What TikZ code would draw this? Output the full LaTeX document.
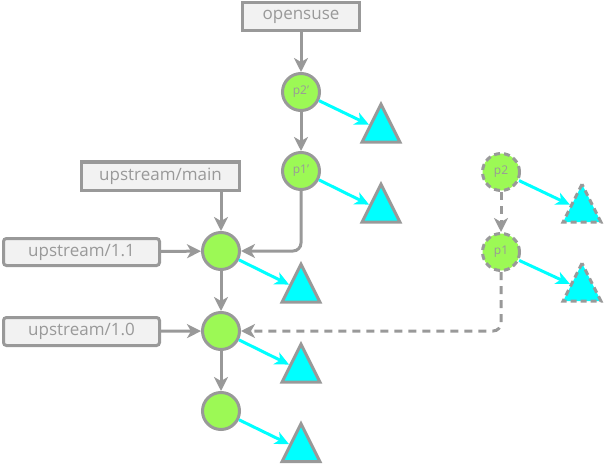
\documentclass[tikz,border=0pt]{standalone}
\usepackage{fontspec}
\setmainfont{Open Sans}
\usetikzlibrary{arrows.meta,shapes.geometric}
\definecolor{edgegray}{HTML}{999999}
\definecolor{boxfill}{HTML}{F2F2F2}
\definecolor{nodegreen}{HTML}{9CF955}
\definecolor{tricyan}{HTML}{00FFFF}
\tikzset{
  every node/.style={text=edgegray},
  label box/.style={draw=edgegray, fill=boxfill, line width=3pt, inner sep=0pt, font=\fontsize{17}{20}\selectfont},
  squarebox/.style={label box},
  roundbox/.style={label box, rounded corners=3pt},
  commit/.style={circle, draw=edgegray, fill=nodegreen, line width=3pt, minimum size=37pt, inner sep=0pt, font=\fontsize{12}{14}\selectfont},
  dcommit/.style={commit, dash pattern=on 6pt off 4pt},
  tri/.style={isosceles triangle, shape border rotate=90, isosceles triangle stretches, draw=edgegray, fill=tricyan, line width=3pt, inner sep=0pt, minimum width=38pt, minimum height=38pt},
  dtri/.style={tri, dash pattern=on 6pt off 4pt},
  grayarrow/.style={draw=edgegray, line width=3pt, -{Stealth[length=14pt,width=14pt,inset=4pt]}},
  cyanarrow/.style={draw=tricyan, line width=3pt, -{Stealth[length=14pt,width=13pt,inset=4pt]}},
}
\begin{document}
\begin{tikzpicture}[x=1pt,y=-1pt]
\useasboundingbox (0,0) rectangle (604,473);
% label boxes
\node[squarebox, minimum width=117pt, minimum height=28pt] (opensuse) at (301,16.5) {opensuse};
\node[squarebox, minimum width=158pt, minimum height=28pt] (umain) at (160.5,176) {upstream/main};
\node[roundbox, minimum width=156pt, minimum height=27pt] (u11) at (81.5,252) {upstream/1.1};
\node[roundbox, minimum width=156pt, minimum height=28pt] (u10) at (81.5,331.5) {upstream/1.0};
% commits
\node[commit] (p2o) at (301,92) {p2'};
\node[commit] (p1o) at (301,171) {p1'};
\node[commit] (c1) at (221,251) {};
\node[commit] (c2) at (221,331) {};
\node[commit] (c3) at (221,411) {};
\node[dcommit] (p2) at (501,172) {p2};
\node[dcommit] (p1) at (501,252) {p1};
% triangles
\node[tri] (t1) at (381,130.5) {};
\node[tri] (t2) at (381,210.5) {};
\node[tri] (t3) at (301,290.5) {};
\node[tri] (t4) at (301,370.5) {};
\node[tri] (t5) at (301,450) {};
\node[dtri] (t6) at (582,210.5) {};
\node[dtri] (t7) at (582,289.5) {};
% cyan arrows
\foreach \a/\b in {p2o/t1, p1o/t2, c1/t3, c2/t4, c3/t5, p2/t6, p1/t7}
  \draw[cyanarrow] (\a) -- (\b);
% gray arrows
\draw[grayarrow] (opensuse) -- (p2o);
\draw[grayarrow] (p2o) -- (p1o);
\draw[grayarrow, rounded corners=8pt] (p1o.south) |- (c1.east);
\draw[grayarrow] (umain.south -| c1) -- (c1);
\draw[grayarrow] (u11) -- (c1);
\draw[grayarrow] (c1) -- (c2);
\draw[grayarrow] (c2) -- (c3);
\draw[grayarrow] (u10) -- (c2);
\draw[grayarrow, dash pattern=on 8pt off 6pt] (p2) -- (p1);
\draw[grayarrow, dash pattern=on 8pt off 6pt, rounded corners=8pt] (p1.south) |- (c2.east);
\end{tikzpicture}
\end{document}
